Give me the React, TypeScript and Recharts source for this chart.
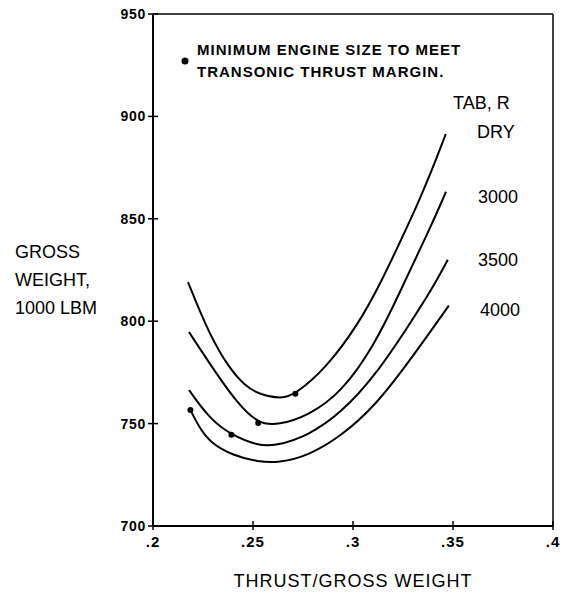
import { ComposedChart, Line, Scatter, XAxis, YAxis, ReferenceLine, Label } from 'recharts';

// thrust/gross weight (t) vs gross weight in 1000 lbm (w)
const curveDry = [
  { t: 0.2175, w: 819.1 }, { t: 0.2284, w: 792.9 }, { t: 0.2384, w: 776.7 }, { t: 0.246, w: 768.5 },
  { t: 0.2526, w: 764.4 }, { t: 0.2643, w: 762.0 }, { t: 0.2712, w: 764.4 }, { t: 0.2862, w: 776.7 },
  { t: 0.3028, w: 798.6 }, { t: 0.3143, w: 819.6 }, { t: 0.3228, w: 837.2 }, { t: 0.3313, w: 854.8 },
  { t: 0.3393, w: 873.3 }, { t: 0.3464, w: 891.4 },
];
const curve3000 = [
  { t: 0.218, w: 794.7 }, { t: 0.2301, w: 776.7 }, { t: 0.2418, w: 760.4 }, { t: 0.2526, w: 749.8 },
  { t: 0.2627, w: 749.3 }, { t: 0.2777, w: 753.9 }, { t: 0.2944, w: 765.3 }, { t: 0.3111, w: 788.9 },
  { t: 0.3237, w: 814.7 }, { t: 0.3312, w: 830.4 }, { t: 0.3395, w: 847.5 }, { t: 0.3465, w: 863.2 },
];
const curve3500 = [
  { t: 0.218, w: 766.4 }, { t: 0.2284, w: 752.2 }, { t: 0.2392, w: 744.4 }, { t: 0.2526, w: 739.2 },
  { t: 0.261, w: 739.0 }, { t: 0.2777, w: 744.1 }, { t: 0.2944, w: 755.5 }, { t: 0.3111, w: 773.4 },
  { t: 0.3278, w: 797.8 }, { t: 0.3395, w: 815.7 }, { t: 0.3474, w: 830.0 },
];
const curve4000 = [
  { t: 0.2187, w: 756.6 }, { t: 0.2234, w: 747.7 }, { t: 0.2284, w: 740.9 }, { t: 0.2401, w: 734.3 },
  { t: 0.2526, w: 731.4 }, { t: 0.2627, w: 730.8 }, { t: 0.2777, w: 734.3 }, { t: 0.2944, w: 744.1 },
  { t: 0.3111, w: 758.7 }, { t: 0.3278, w: 779.9 }, { t: 0.3479, w: 807.6 },
];
// minimum engine size to meet transonic thrust margin
const minEnginePoints = [
  { t: 0.2712, w: 764.6 }, { t: 0.2526, w: 750.3 }, { t: 0.2392, w: 744.6 }, { t: 0.2187, w: 756.6 },
];
const legendBullet = [{ t: 0.216, w: 927 }];

const xTicks = [0.2, 0.25, 0.3, 0.35, 0.4];
const xTickLabels = ['.2', '.25', '.3', '.35', '.4'];
const yTicks = [700, 750, 800, 850, 900, 950];

const font = '"Liberation Sans", Arial, sans-serif';

const XTick = (props: any) => {
  const { x, y, index } = props;
  return (
    <g>
      <line x1={x} y1={y - 5} x2={x} y2={y + 4} stroke="#000" strokeWidth={1.5} />
      <text x={x} y={y + 21} textAnchor="middle" fontSize={15} fontWeight="bold" letterSpacing={1} fill="#000" fontFamily={font}>
        {xTickLabels[index]}
      </text>
    </g>
  );
};

const YTick = (props: any) => {
  const { x, y, payload } = props;
  return (
    <g>
      <line x1={x - 5} y1={y} x2={x + 5} y2={y} stroke="#000" strokeWidth={1.5} />
      <text x={x - 7} y={y + 5} textAnchor="end" fontSize={14} fontWeight="bold" letterSpacing={0.7} fill="#000" fontFamily={font}>
        {payload.value}
      </text>
    </g>
  );
};

const Dot = (p: any) => <circle cx={p.cx} cy={p.cy} r={3} fill="#000" />;
const Bullet = (p: any) => <circle cx={p.cx} cy={p.cy} r={3.5} fill="#000" />;

const textStyle = { position: 'absolute' as const, fontFamily: font, color: '#000', whiteSpace: 'nowrap' as const };

export default function App() {
  return (
    <div style={{ position: 'absolute', left: 0, top: 0, width: 570, height: 595, background: '#fff' }}>
      <ComposedChart width={570} height={595} margin={{ top: 14, right: 17, bottom: 0, left: 0 }}>
        <XAxis
          dataKey="t"
          type="number"
          domain={[0.2, 0.4]}
          ticks={xTicks}
          interval={0}
          height={69}
          tickSize={0}
          tickMargin={0}
          tickLine={false}
          tick={<XTick />}
          axisLine={{ stroke: '#000', strokeWidth: 2 }}
        >
          <Label value="THRUST/GROSS WEIGHT" position="insideBottom" offset={8} fontSize={18} letterSpacing={1} fill="#000" fontFamily={font} />
        </XAxis>
        <YAxis
          dataKey="w"
          type="number"
          domain={[700, 950]}
          ticks={yTicks}
          interval={0}
          width={153}
          tickSize={0}
          tickMargin={0}
          tickLine={false}
          tick={<YTick />}
          axisLine={{ stroke: '#000', strokeWidth: 2 }}
        />
        <ReferenceLine y={950} stroke="#000" strokeWidth={1.5} />
        <ReferenceLine x={0.4} stroke="#000" strokeWidth={1.5} />
        <Line data={curveDry} dataKey="w" type="basis" stroke="#000" strokeWidth={2} dot={false} isAnimationActive={false} />
        <Line data={curve3000} dataKey="w" type="basis" stroke="#000" strokeWidth={2} dot={false} isAnimationActive={false} />
        <Line data={curve3500} dataKey="w" type="basis" stroke="#000" strokeWidth={2} dot={false} isAnimationActive={false} />
        <Line data={curve4000} dataKey="w" type="basis" stroke="#000" strokeWidth={2} dot={false} isAnimationActive={false} />
        <Scatter data={minEnginePoints} dataKey="w" shape={<Dot />} isAnimationActive={false} />
        <Scatter data={legendBullet} dataKey="w" shape={<Bullet />} isAnimationActive={false} />
      </ComposedChart>

      <div style={{ ...textStyle, left: 197, top: 39, fontSize: 15, lineHeight: '22px', letterSpacing: 1, fontWeight: 'bold' }}>
        MINIMUM ENGINE SIZE TO MEET<br />TRANSONIC THRUST MARGIN.
      </div>
      <div style={{ ...textStyle, left: 453, top: 92, fontSize: 18, lineHeight: '22px' }}>TAB, R</div>
      <div style={{ ...textStyle, left: 477, top: 121, fontSize: 18, lineHeight: '22px' }}>DRY</div>
      <div style={{ ...textStyle, left: 478, top: 186, fontSize: 18, lineHeight: '22px' }}>3000</div>
      <div style={{ ...textStyle, left: 478, top: 249, fontSize: 18, lineHeight: '22px' }}>3500</div>
      <div style={{ ...textStyle, left: 480, top: 299, fontSize: 18, lineHeight: '22px' }}>4000</div>
      <div style={{ ...textStyle, left: 15, top: 238, fontSize: 18, lineHeight: '28px' }}>
        GROSS<br />WEIGHT,<br />1000 LBM
      </div>
    </div>
  );
}
